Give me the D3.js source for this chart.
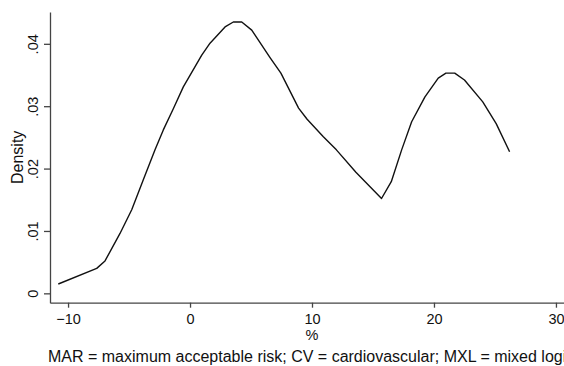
<!DOCTYPE html>
<html lang="en">
<head>
  <meta charset="UTF-8">
  <title>Density of %</title>
  <style>
    body { margin: 0; background: #fff; }
    svg text { font-family: 'Liberation Sans', Arial, Helvetica, sans-serif; fill: #111; }
  </style>
</head>
<body>
  <div class="workspace"></div>
  <script src="https://cdn.jsdelivr.net/npm/d3@7"></script>
  <script>
    // density curve
    const pct = [-10.8, -7.65, -6.97, -5.74, -4.78, -3.83, -2.87, -2.19, -1.37, -0.55, 0.96, 1.64, 2.87, 3.55, 4.24, 5.06, 6.56, 7.45, 8.9, 9.6, 10.93, 12.0, 13.6, 15.7, 16.5, 17.35, 18.17, 19.26, 20.35, 20.98, 21.7, 22.5, 24.0, 25.1, 26.2]
    const density = [0.0015, 0.0040, 0.0052, 0.0096, 0.0134, 0.0182, 0.0230, 0.0262, 0.0296, 0.0331, 0.0382, 0.0401, 0.0427, 0.0435, 0.0435, 0.0422, 0.0378, 0.0353, 0.0297, 0.0279, 0.0251, 0.0230, 0.0194, 0.0152, 0.0179, 0.0230, 0.0275, 0.0315, 0.0345, 0.0353, 0.0353, 0.0342, 0.0307, 0.0272, 0.0227]
    const xTicks = [-10, 0, 10, 20, 30]
    const yTicks = [0, 0.01, 0.02, 0.03, 0.04]
    const yTickLabels = ['0', '.01', '.02', '.03', '.04']
    const xDomain = [-11.48, 30.66]
    const yDomain = [-0.0015, 0.0451]

    const width = 564
    const height = 366
    const margin = { top: 12, left: 50, bottom: 63.3, right: 0 }

    const svg = d3.select('.workspace').append('svg')
      .attr('width', width)
      .attr('height', height)

    const x = d3.scaleLinear().domain(xDomain).range([margin.left, width - margin.right])
    const y = d3.scaleLinear().domain(yDomain).range([height - margin.bottom, margin.top])

    const xAxis = svg.append('g')
      .attr('transform', 'translate(0,' + (height - margin.bottom) + ')')
      .call(d3.axisBottom(x).tickValues(xTicks).tickSize(5).tickSizeOuter(0).tickPadding(6))
    xAxis.selectAll('text').style('font-size', '14.5px')

    const yAxis = svg.append('g')
      .attr('transform', 'translate(' + margin.left + ',0)')
      .call(d3.axisLeft(y).tickValues(yTicks).tickSize(6).tickSizeOuter(0)
        .tickFormat((d, i) => yTickLabels[i]))
    yAxis.selectAll('text')
      .style('font-size', '14.5px')
      .attr('transform', 'rotate(-90)')
      .attr('text-anchor', 'middle')
      .attr('x', 0)
      .attr('y', -12)
      .attr('dy', 0)

    svg.selectAll('.domain, .tick line').attr('stroke', '#444').attr('stroke-width', 1.3)

    const pts = pct.map((p, i) => [p, density[i]])
    svg.append('path')
      .datum(pts)
      .attr('fill', 'none')
      .attr('stroke', '#111')
      .attr('stroke-width', 1.4)
      .attr('stroke-linejoin', 'round')
      .attr('d', d3.line().x(d => x(d[0])).y(d => y(d[1])))

    svg.append('text')
      .attr('x', x(10))
      .attr('y', 339.5)
      .attr('text-anchor', 'middle')
      .style('font-size', '14.5px')
      .text('%')

    svg.append('text')
      .attr('transform', 'translate(23,' + ((margin.top + height - margin.bottom) / 2) + ') rotate(-90)')
      .attr('text-anchor', 'middle')
      .style('font-size', '16px')
      .text('Density')

    svg.append('text')
      .attr('x', 48)
      .attr('y', 362)
      .style('font-size', '16px')
      .text('MAR = maximum acceptable risk; CV = cardiovascular; MXL = mixed logit')
  </script>
</body>
</html>
